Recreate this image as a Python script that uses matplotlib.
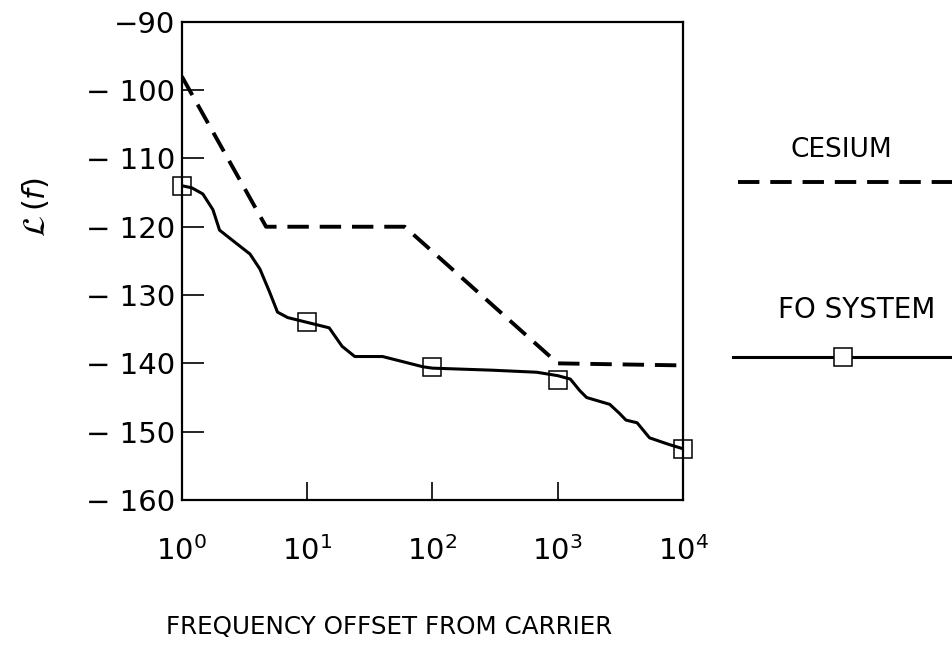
import matplotlib
matplotlib.use('Agg')
from matplotlib import pyplot as plt
from matplotlib.lines import Line2D

# cesium reference (dashed)
cs_freq = [1, 4.7, 60, 1000, 10000]
cs_level = [-98, -120, -120, -140, -140.3]

# FO system (solid curve)
fo_freq = [1, 1.2, 1.47, 1.77, 2.0, 2.75, 3.5, 4.2, 5.0, 5.8, 7.0, 10, 15, 19, 24, 40,
           84, 100, 300, 680, 1000, 1260, 1500, 1700, 2600, 3100, 3500, 4300, 5400,
           7800, 10000]
fo_level = [-114, -114.3, -115.2, -117.5, -120.5, -122.5, -124, -126.2, -129.5, -132.5,
            -133.3, -134, -134.8, -137.5, -139, -139, -140.5, -140.7, -141, -141.3,
            -141.8, -142.3, -144, -145, -146, -147.3, -148.3, -148.7, -150.9, -151.9,
            -152.5]

# square markers on the FO curve
mk_freq = [1, 10, 100, 1000, 10000]
mk_level = [-114, -134, -140.5, -142.5, -152.5]

y_ticks = [-160, -150, -140, -130, -120, -110, -100, -90]
x_ticks = [1, 10, 100, 1000, 10000]

fig = plt.figure(figsize=(9.52, 6.48), dpi=100)
ax = fig.add_axes([0.191, 0.2284, 0.5265, 0.738])

ax.plot(cs_freq, cs_level, color='black', lw=2.8, linestyle=(0, (5.5, 2.8)))
ax.plot(fo_freq, fo_level, color='black', lw=2.2)
ax.plot(mk_freq, mk_level, 's', ms=12.5, mfc='none', mec='black', mew=1.1, clip_on=False)

ax.set_xscale('log')
ax.set_xlim(1, 10000)
ax.set_ylim(-160, -90)
ax.set_xticks(x_ticks)
ax.minorticks_off()
ax.set_yticks(y_ticks)
ax.set_yticklabels(['\u2212' + ' ' + str(-v) if v != -90 else '\u221290' for v in y_ticks])
ax.tick_params(axis='y', direction='in', length=16, width=1.2, labelsize=21, pad=5)
ax.tick_params(axis='x', direction='in', length=13, width=1.2, labelsize=21, pad=26)
for s in ax.spines.values():
    s.set_linewidth(1.6)

fig.text(0.037, 0.68, r'$\mathcal{L}\,(f)$', rotation=90, fontsize=22,
         ha='center', va='center')
fig.text(0.409, 0.032, 'FREQUENCY OFFSET FROM CARRIER', fontsize=17.7,
         ha='center', va='center')

# legend drawn beside the axes
fig.text(841 / 952, 1 - 150 / 648, 'CESIUM', fontsize=19, ha='center', va='center')
fig.add_artist(Line2D([738 / 952, 1.0], [1 - 182 / 648] * 2, color='black', lw=2.8,
                      linestyle=(0, (5.5, 2.8))))
fig.text(857 / 952, 1 - 310 / 648, 'FO SYSTEM', fontsize=20, ha='center', va='center')
fig.add_artist(Line2D([733 / 952, 1.0], [1 - 357 / 648] * 2, color='black', lw=2.2))
fig.add_artist(Line2D([843 / 952], [1 - 357 / 648], marker='s', ms=12.5, mfc='white',
                      mec='black', mew=1.1))

plt.savefig('out.png', dpi=100)
plt.close()
